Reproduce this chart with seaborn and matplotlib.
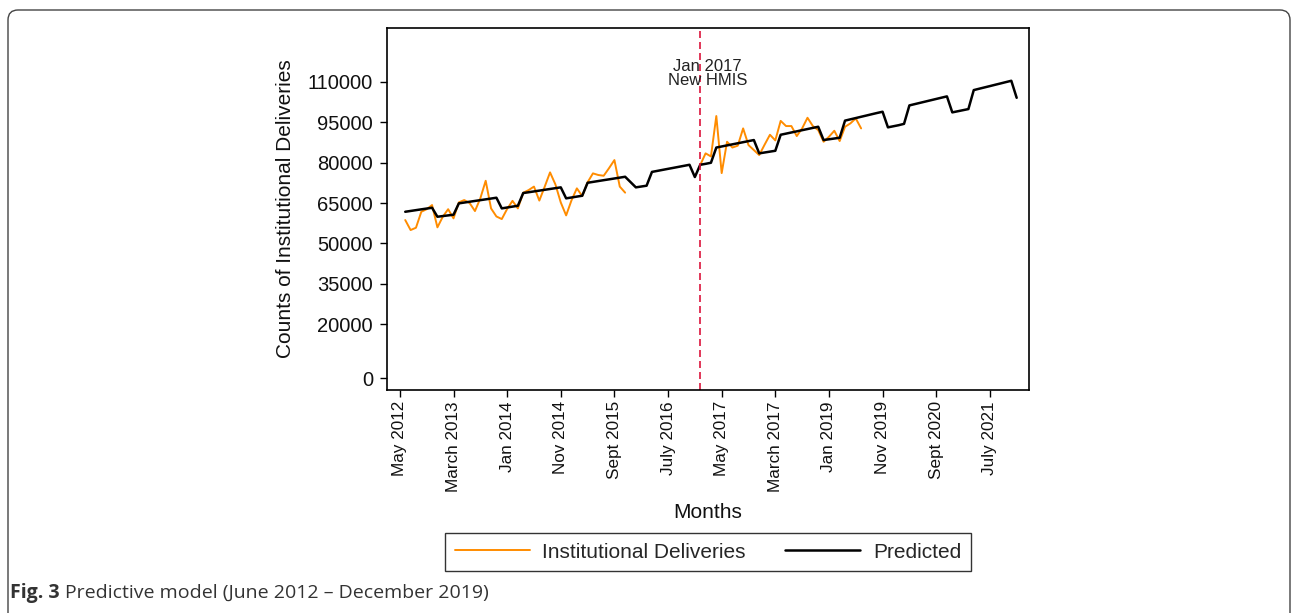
import matplotlib
matplotlib.use("Agg")
import matplotlib.pyplot as plt
import seaborn as sns
import pandas as pd
from matplotlib.patches import FancyBboxPatch
from matplotlib.transforms import IdentityTransform
from matplotlib.lines import Line2D

# ---------------- data ----------------
# month index: 0 = May 2012
months_obs_pre = list(range(1, 43))
deliveries_pre = [58670, 54960, 55810, 61750, 62700, 64240, 55960, 59900, 62700, 59300,
                  65240, 66100, 64990, 62010, 66730, 73260, 63000, 60000, 59040, 62800,
                  65800, 63000, 68810, 69800, 71100, 65900, 71040, 76380, 71900, 65200,
                  60400, 66000, 70440, 67580, 72700, 76010, 75400, 75120, 77950, 80950,
                  71100, 68850]
months_obs_post = list(range(56, 87))
deliveries_post = [79090, 83440, 82300, 97300, 76100, 87750, 85600, 86300, 92710, 86520,
                   84660, 82810, 86650, 90350, 88250, 95500, 93580, 93580, 89860, 92710,
                   96660, 93580, 92090, 87750, 89600, 91830, 88010, 93320, 94570, 96430,
                   92710]
months_pred = list(range(1, 116))
predicted = [61750, 62050, 62350, 62650, 62940, 63240,
             59900, 60150, 60400, 60650,
             64870, 65170, 65470, 65770, 66060, 66360, 66660, 66960,
             63000, 63330, 63660, 63980,
             68700, 69000, 69300, 69600, 69910, 70210, 70510, 70810,
             66730, 67050, 67380, 67700,
             72520, 72840, 73160, 73480, 73790, 74110, 74430, 74750,
             72780, 70810, 71120, 71430,
             76550, 76930, 77310, 77690, 78060, 78440, 78820, 79200,
             74650,
             79200, 79550, 79950,
             85600, 86000, 86400, 86790, 87190, 87590, 87990, 88380,
             83440, 83760, 84080, 84400,
             90350, 90770, 91200, 91620, 92050, 92470, 92900, 93320,
             88380, 88670, 88950, 89240,
             95600, 96080, 96550, 97030, 97500, 97980, 98450, 98900,
             93100, 93500, 93900, 94400,
             101250, 101730, 102210, 102690, 103170, 103650, 104130, 104600,
             98660, 99070, 99480, 99890,
             106940, 107440, 107930, 108420, 108920, 109410, 109910, 110400,
             104080]
tick_positions = list(range(0, 111, 10))
tick_labels = ["May 2012", "March 2013", "Jan 2014", "Nov 2014", "Sept 2015", "July 2016",
               "May 2017", "March 2017", "Jan 2019", "Nov 2019", "Sept 2020", "July 2021"]
y_ticks = [0, 20000, 35000, 50000, 65000, 80000, 95000, 110000]
intervention_month = 56
series_labels = ["Institutional Deliveries", "Predicted"]

ORANGE = "#ff8c00"
CRIMSON = "#dc143c"

# ---------------- figure ----------------
sns.set_theme(style="ticks")
plt.rcParams["font.family"] = ["Liberation Sans", "DejaVu Sans"]

W, H = 1292, 613
fig = plt.figure(figsize=(W / 100, H / 100), dpi=100)
ax = fig.add_axes([387 / W, 1 - 390 / H, (1029 - 387) / W, (390 - 28) / H])

obs = pd.concat([
    pd.DataFrame({"month": months_obs_pre, "value": deliveries_pre, "seg": 0}),
    pd.DataFrame({"month": months_obs_post, "value": deliveries_post, "seg": 1}),
], ignore_index=True)
pred = pd.DataFrame({"month": months_pred, "value": predicted})

sns.lineplot(data=obs, x="month", y="value", units="seg", estimator=None,
             color=ORANGE, lw=1.4, ax=ax, legend=False)
sns.lineplot(data=pred, x="month", y="value", color="black", lw=1.8, ax=ax, legend=False)

ax.axvline(intervention_month, color=CRIMSON, lw=1.2, dashes=(4.2, 2.4))
ax.text(57.3, 114100, "Jan 2017", ha="center", va="baseline", fontsize=12, color="#222222")
ax.text(57.3, 108700, "New HMIS", ha="center", va="baseline", fontsize=12, color="#222222")

ax.set_xlim(-2.4, 117.3)
ax.set_ylim(-4450, 130000)
ax.set_xticks(tick_positions)
ax.set_xticklabels(tick_labels, rotation=90)
ax.set_yticks(y_ticks)
ax.set_yticklabels([str(v) for v in y_ticks])
ax.tick_params(axis="both", direction="out", length=5, width=1, color="black",
               labelcolor="#111111")
ax.tick_params(axis="x", pad=3, labelsize=12.3)
ax.tick_params(axis="y", pad=5, labelsize=14.5)
for s in ax.spines.values():
    s.set_visible(True)
    s.set_color("black")
    s.set_linewidth(1.2)
ax.set_xlabel("Months", fontsize=15, labelpad=8, color="#111111")
ax.set_ylabel("Counts of Institutional Deliveries", fontsize=15, labelpad=9, color="#111111")

handles = [Line2D([], [], color=ORANGE, lw=1.4), Line2D([], [], color="black", lw=1.8)]
leg = fig.legend(handles, series_labels, loc="center", bbox_to_anchor=(708 / W, 1 - 552 / H),
                 ncol=2, frameon=True, fancybox=False, fontsize=15, handlelength=3.6,
                 handletextpad=0.6, columnspacing=1.9, borderpad=0.45)
leg.get_frame().set_edgecolor("black")
leg.get_frame().set_linewidth(1.0)

# caption
cap_font = ["Open Sans", "DejaVu Sans"]
t1 = fig.text(10 / W, 1 - 598 / H, "Fig. 3", fontsize=14, fontweight="bold",
              family=cap_font, color="#333333", va="baseline")
fig.canvas.draw()
bb = t1.get_window_extent()
fig.text((bb.x1 + 5) / W, 1 - 598 / H, "Predictive model (June 2012 \u2013 December 2019)",
         fontsize=14, family=cap_font, color="#333333", va="baseline")

# outer rounded border
border = FancyBboxPatch((8, -40), 1282, 643, boxstyle="round,pad=0,rounding_size=10",
                        transform=IdentityTransform(), fill=False, edgecolor="#444444", lw=1)
fig.patches.append(border)

fig.savefig("out.png", dpi=100)
